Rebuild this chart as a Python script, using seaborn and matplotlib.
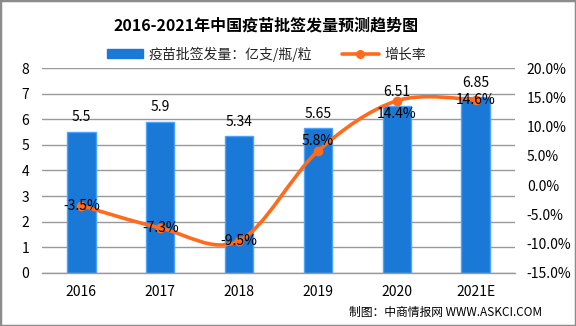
import numpy as np
import pandas as pd
import matplotlib
matplotlib.use("Agg")
import matplotlib.pyplot as plt
from matplotlib.path import Path
from matplotlib.patches import PathPatch, Patch, Rectangle
from matplotlib.lines import Line2D
from matplotlib.ticker import FixedLocator, FuncFormatter
import seaborn as sns

# Data
years = ["2016", "2017", "2018", "2019", "2020", "2021E"]
volume = [5.5, 5.9, 5.34, 5.65, 6.51, 6.85]          # 亿支/瓶/粒
growth = [-3.5, -7.3, -9.5, 5.8, 14.4, 14.6]          # %

title = "2016-2021年中国疫苗批签发量预测趋势图"
bar_name = "疫苗批签发量：亿支/瓶/粒"
line_name = "增长率"
footer = "制图：中商情报网 WWW.ASKCI.COM"

sns.set_theme(style="white")
plt.rcParams["font.family"] = ["Noto Sans CJK SC", "DejaVu Sans"]
plt.rcParams["axes.unicode_minus"] = False

BAR = "#1a78d6"
BAR_EDGE = "#4aa3ff"
LINE = "#ff6a1c"
GRID = "#999999"

fig = plt.figure(figsize=(5.76, 3.26), dpi=100)
ax = fig.add_axes([0.0729, 0.1626, 0.8212, 0.6288])

df = pd.DataFrame({"year": years, "volume": volume, "growth": growth})
sns.barplot(data=df, x="year", y="volume", color=BAR, width=0.36,
            edgecolor=BAR_EDGE, linewidth=1, saturation=1, ax=ax, zorder=2)

ax.set_xlim(-0.5, len(years) - 0.5)
ax.set_ylim(0, 8)
ax.set_yticks(range(0, 9))
ax.yaxis.grid(True, color=GRID, linewidth=1)
ax.set_axisbelow(True)
ax.set_xlabel("")
ax.set_ylabel("")
for s in ["top", "left", "right"]:
    ax.spines[s].set_visible(False)
ax.spines["bottom"].set_color(GRID)
ax.spines["bottom"].set_linewidth(1)
ax.tick_params(axis="y", length=0, pad=9, labelsize=10, colors="#000000")
ax.tick_params(axis="x", which="major", length=0, pad=8.5, labelsize=10, colors="#000000")
ax.xaxis.set_minor_locator(FixedLocator(np.arange(-0.5, len(years), 1.0)))
ax.tick_params(axis="x", which="minor", length=4, width=1, color=GRID, direction="out")

# Value labels above bars
for i, v in enumerate(volume):
    ax.annotate(f"{v:g}", (i, v), xytext=(0, 10.5), textcoords="offset points",
                ha="center", va="center", fontsize=10, color="#000000", zorder=5)

# Growth rate on secondary axis, drawn as a smoothed curve through the points
ax2 = ax.twinx()
ax2.set_ylim(-15, 20)
ax2.set_yticks(np.arange(-15, 21, 5))
ax2.yaxis.set_major_formatter(FuncFormatter(lambda v, p: f"{v:.1f}%"))
ax2.tick_params(axis="y", length=0, pad=8.5, labelsize=10, colors="#000000")
for s in ax2.spines.values():
    s.set_visible(False)

xs = np.arange(len(growth), dtype=float)
ys = np.asarray(growth, dtype=float)
pts = np.column_stack([xs, ys])
ext = np.vstack([pts[0], pts, pts[-1]])
verts = [tuple(pts[0])]
codes = [Path.MOVETO]
for i in range(len(pts) - 1):
    p0, p1, p2, p3 = ext[i], ext[i + 1], ext[i + 2], ext[i + 3]
    c1 = p1 + (p2 - p0) / 6.0
    c2 = p2 - (p3 - p1) / 6.0
    verts += [tuple(c1), tuple(c2), tuple(p2)]
    codes += [Path.CURVE4] * 3
ax2.add_patch(PathPatch(Path(verts, codes), facecolor="none", edgecolor=LINE,
                        linewidth=2.6, capstyle="round", zorder=3))
ax2.plot(xs, ys, linestyle="none", marker="o", markersize=6,
         color=LINE, zorder=4)

# Growth labels
label_offsets = [0, 0, 0, 7.5, -9.5, 0]
for i, (g, dy) in enumerate(zip(growth, label_offsets)):
    ax2.annotate(f"{g:.1f}%", (i, g), xytext=(0, dy), textcoords="offset points",
                 ha="center", va="center", fontsize=10, color="#000000", zorder=6)

# Title, legend, footer
fig.text(0.462, 0.922, title, ha="center", va="center", fontsize=11.5,
         fontweight="bold", color="#000000")
handles = [Patch(facecolor=BAR, edgecolor=BAR),
           Line2D([0], [0], color=LINE, linewidth=2.6, marker="o", markersize=5.5)]
fig.legend(handles, [bar_name, line_name], loc="center", bbox_to_anchor=(0.462, 0.834),
           ncol=2, frameon=False, fontsize=10, handlelength=2.6, handleheight=0.6,
           columnspacing=2.2, handletextpad=0.4)
fig.text(0.941, 0.043, footer, ha="right", va="center", fontsize=8.5, color="#000000")

# Outer frame
fig.patches.append(Rectangle((0, 0), 1, 1, transform=fig.transFigure, fill=False,
                             edgecolor="#8c8c8c", linewidth=2.5, zorder=10))

fig.savefig("out.png", dpi=100)
